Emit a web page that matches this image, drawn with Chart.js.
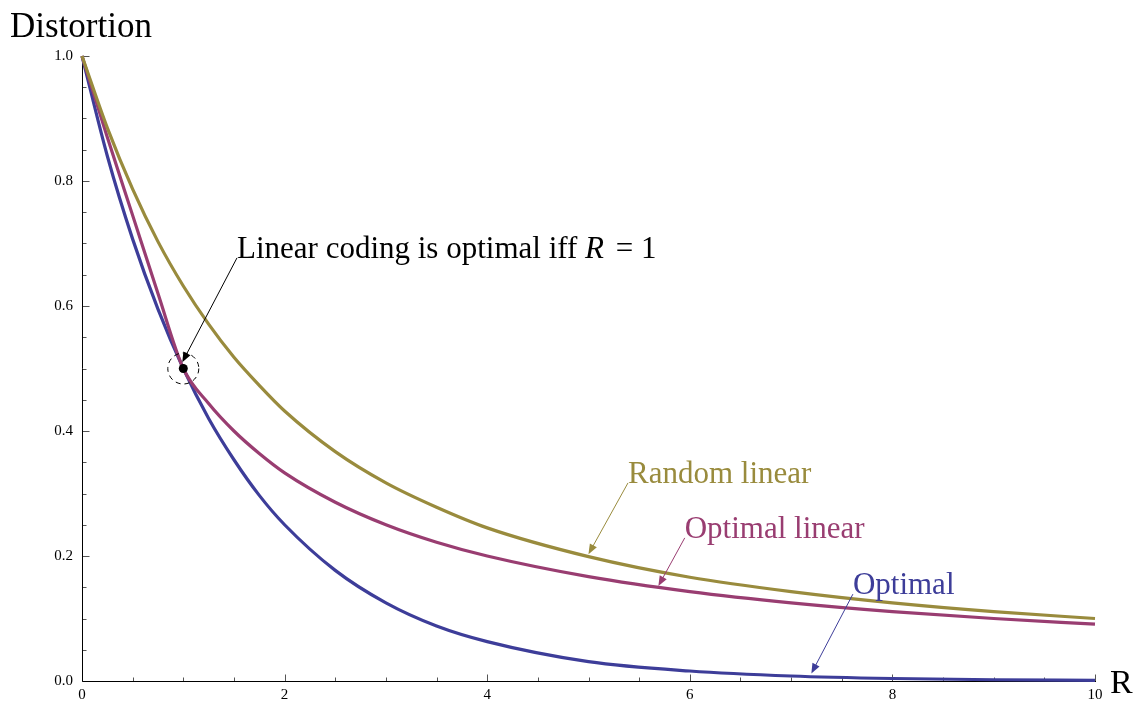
<!DOCTYPE html>
<html>
<head>
<meta charset="utf-8">
<title>Distortion vs R</title>
<script src="https://cdn.jsdelivr.net/npm/chart.js@4.4.1/dist/chart.umd.min.js"></script>
<style>
  html, body { margin: 0; padding: 0; background: #fff; }
  #wrap { width: 1140px; height: 706px; position: relative; }
</style>
</head>
<body>
<div id="wrap"><canvas id="chart"></canvas></div>
<script>
// values
const rates = [0, 0.25, 0.5, 0.75, 1, 1.25, 1.5, 1.75, 2, 2.5, 3, 3.5, 4, 5, 6, 7, 8, 9, 10];
const optimal = [1, 0.84, 0.707, 0.595, 0.5, 0.42, 0.354, 0.297, 0.25, 0.177, 0.125, 0.088, 0.063, 0.031, 0.016, 0.008, 0.004, 0.002, 0.001];
const optimalLinear = [1, 0.87, 0.745, 0.62, 0.5, 0.444, 0.4, 0.364, 0.333, 0.286, 0.25, 0.222, 0.2, 0.167, 0.143, 0.125, 0.111, 0.1, 0.091];
const randomLinear = [1, 0.885, 0.787, 0.703, 0.632, 0.571, 0.518, 0.473, 0.432, 0.367, 0.317, 0.278, 0.245, 0.199, 0.166, 0.143, 0.125, 0.111, 0.1];

const xTickValues = [0, 2, 4, 6, 8, 10];
const yTickValues = [0, 0.2, 0.4, 0.6, 0.8, 1.0];

const BLUE = '#3d3d99';
const MAGENTA = '#993d71';
const OLIVE = '#998b3d';
const SERIF = '"Liberation Serif", "Times New Roman", serif';
const LABEL_FONT = '31px ' + SERIF;

// callouts: label anchor and arrow tip, in data units
const callouts = [
    { text: 'Random linear', color: OLIVE, at: [5.39, 0.317], tip: [5.0, 0.203] },
    { text: 'Optimal linear', color: MAGENTA, at: [5.95, 0.229], tip: [5.69, 0.152] },
    { text: 'Optimal', color: BLUE, at: [7.61, 0.139], tip: [7.2, 0.012] }
];

function toPoints(ys) {
    return rates.map((r, i) => ({ x: r, y: ys[i] }));
}

function drawArrow(ctx, x1, y1, x2, y2, color) {
    const ang = Math.atan2(y2 - y1, x2 - x1);
    const len = 10, half = 4;
    ctx.strokeStyle = color;
    ctx.fillStyle = color;
    ctx.lineWidth = 1;
    ctx.beginPath();
    ctx.moveTo(x1, y1);
    ctx.lineTo(x2 - Math.cos(ang) * len * 0.8, y2 - Math.sin(ang) * len * 0.8);
    ctx.stroke();
    ctx.beginPath();
    ctx.moveTo(x2, y2);
    ctx.lineTo(x2 - Math.cos(ang) * len - Math.sin(ang) * half, y2 - Math.sin(ang) * len + Math.cos(ang) * half);
    ctx.lineTo(x2 - Math.cos(ang) * len + Math.sin(ang) * half, y2 - Math.sin(ang) * len - Math.cos(ang) * half);
    ctx.closePath();
    ctx.fill();
}

const axesPlugin = {
    id: 'mmaAxes',
    beforeDatasetsDraw(chart) {
        const { ctx, scales: { x, y } } = chart;
        const ax = Math.round(x.getPixelForValue(0)) + 0.5;
        const ay = Math.round(y.getPixelForValue(0)) + 0.5;
        ctx.save();
        // ticks point into the plot, long ones at the labelled values
        ctx.strokeStyle = '#555';
        ctx.lineWidth = 1;
        ctx.beginPath();
        for (let i = 0; i <= 20; i++) {
            const px = Math.round(x.getPixelForValue(i * 0.5)) + 0.5;
            const len = i % 4 === 0 ? 7 : 4;
            ctx.moveTo(px, ay);
            ctx.lineTo(px, ay - len);
        }
        for (let i = 0; i <= 20; i++) {
            const py = Math.round(y.getPixelForValue(i * 0.05)) + 0.5;
            const len = i % 4 === 0 ? 7 : 4;
            ctx.moveTo(ax, py);
            ctx.lineTo(ax + len, py);
        }
        ctx.stroke();
        ctx.strokeStyle = '#000';
        ctx.beginPath();
        ctx.moveTo(ax, Math.round(y.getPixelForValue(1)));
        ctx.lineTo(ax, ay);
        ctx.lineTo(Math.round(x.getPixelForValue(10)) + 1, ay);
        ctx.stroke();

        // axis titles
        const area = chart.chartArea;
        ctx.fillStyle = '#000';
        ctx.textBaseline = 'alphabetic';
        ctx.textAlign = 'left';
        ctx.font = '35px ' + SERIF;
        ctx.fillText('Distortion', area.left - 72, area.top - 19);
        ctx.font = '34px ' + SERIF;
        ctx.fillText('R', area.right + 15, area.bottom + 12);
        ctx.restore();
    },
    afterDatasetsDraw(chart) {
        const { ctx, scales: { x, y } } = chart;
        ctx.save();
        ctx.textBaseline = 'alphabetic';
        ctx.textAlign = 'left';

        callouts.forEach(c => {
            const sx = x.getPixelForValue(c.at[0]), sy = y.getPixelForValue(c.at[1]);
            drawArrow(ctx, sx, sy, x.getPixelForValue(c.tip[0]), y.getPixelForValue(c.tip[1]), c.color);
            ctx.fillStyle = c.color;
            ctx.font = LABEL_FONT;
            ctx.fillText(c.text, sx, sy);
        });

        // the R = 1 point where linear coding meets the optimum
        const px = x.getPixelForValue(1), py = y.getPixelForValue(0.5);
        ctx.setLineDash([5, 4]);
        ctx.strokeStyle = '#000';
        ctx.lineWidth = 1;
        ctx.beginPath();
        ctx.arc(px, py, 15.5, 0, Math.PI * 2);
        ctx.stroke();
        ctx.setLineDash([]);
        ctx.fillStyle = '#000';
        ctx.beginPath();
        ctx.arc(px, py, 4.5, 0, Math.PI * 2);
        ctx.fill();

        const tx = x.getPixelForValue(1.53), ty = y.getPixelForValue(0.677);
        drawArrow(ctx, tx, ty, x.getPixelForValue(0.99), y.getPixelForValue(0.51), '#000');
        ctx.fillStyle = '#000';
        ctx.font = LABEL_FONT;
        let cx = tx;
        const plain = 'Linear coding is optimal iff ';
        ctx.fillText(plain, cx, ty);
        cx += ctx.measureText(plain).width;
        ctx.font = 'italic ' + LABEL_FONT;
        ctx.fillText('R', cx, ty);
        cx += ctx.measureText('R').width;
        ctx.font = LABEL_FONT;
        ctx.fillText(' = 1', cx + 4, ty);
        ctx.restore();
    }
};

function lineSet(label, ys, color) {
    return {
        label: label,
        data: toPoints(ys),
        borderColor: color,
        backgroundColor: color,
        borderWidth: 3.2,
        pointRadius: 0,
        showLine: true,
        cubicInterpolationMode: 'monotone',
        clip: false
    };
}

new Chart(document.getElementById('chart'), {
    type: 'scatter',
    data: {
        datasets: [
            lineSet('Random linear', randomLinear, OLIVE),
            lineSet('Optimal linear', optimalLinear, MAGENTA),
            lineSet('Optimal', optimal, BLUE)
        ]
    },
    options: {
        responsive: true,
        maintainAspectRatio: false,
        animation: false,
        layout: { padding: { top: 56, right: 45, left: 0, bottom: 0 } },
        plugins: {
            legend: { display: false },
            tooltip: { enabled: false }
        },
        scales: {
            x: {
                type: 'linear',
                min: 0,
                max: 10,
                grid: { display: false, drawTicks: false },
                border: { display: false },
                afterBuildTicks: s => { s.ticks = xTickValues.map(v => ({ value: v })); },
                afterFit: s => { s.height = 25; },
                ticks: {
                    padding: 5,
                    color: '#000',
                    maxRotation: 0,
                    font: { family: SERIF, size: 15 },
                    callback: v => String(v)
                }
            },
            y: {
                type: 'linear',
                min: 0,
                max: 1,
                grid: { display: false, drawTicks: false },
                border: { display: false },
                afterBuildTicks: s => { s.ticks = yTickValues.map(v => ({ value: v })); },
                afterFit: s => { s.width = 82; },
                ticks: {
                    padding: 9,
                    color: '#000',
                    font: { family: SERIF, size: 15 },
                    callback: v => Number(v).toFixed(1)
                }
            }
        }
    },
    plugins: [axesPlugin]
});
</script>
</body>
</html>
